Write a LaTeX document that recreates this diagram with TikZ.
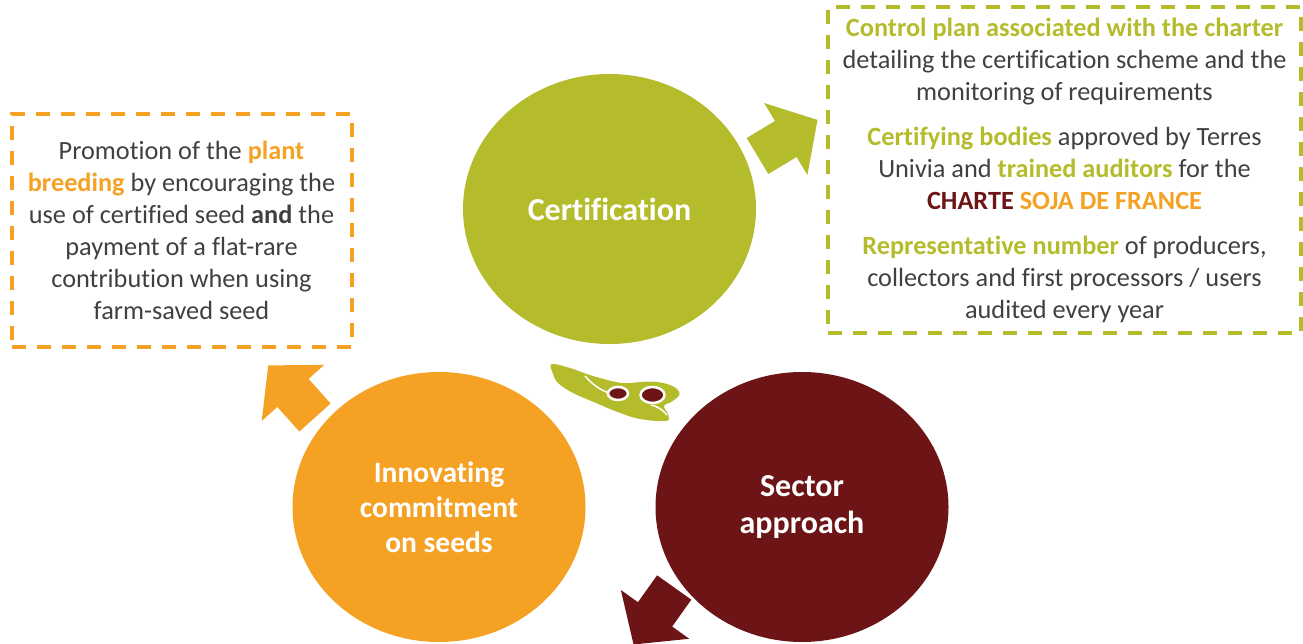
\documentclass[tikz,border=0pt]{standalone}
\usepackage{fontspec}
\setmainfont[Ligatures=NoCommon]{Carlito}
\usetikzlibrary{shapes.geometric}

\definecolor{soygreen}{RGB}{180,188,44}
\definecolor{soyorange}{RGB}{244,161,36}
\definecolor{soyred}{RGB}{108,20,22}
\definecolor{soytext}{RGB}{64,64,64}

\begin{document}
\begin{tikzpicture}[x=1pt, y=-1pt]
    \tikzstyle{every node}=[inner sep=0pt, align=center]
    \tikzstyle{bubble}=[ellipse, minimum width=293pt, minimum height=270pt, text=white, font=\fontsize{29.5}{35}\selectfont\bfseries]
    \tikzstyle{notebox}=[draw, line width=4pt, dash pattern=on 14pt off 11pt, text=soytext, font=\fontsize{26.3}{32}\selectfont]
    \useasboundingbox (0,0) rectangle (1303,644);
    \clip (0,0) rectangle (1303,644);

    % the three stages
    \node[bubble, fill=soygreen, font=\fontsize{32}{38}\selectfont\bfseries] (cert) at (609.5,209) {Certification};
    \node[bubble, fill=soyorange] (seeds) at (439,507) {Innovating\\commitment\\on seeds};
    \node[bubble, fill=soyred, font=\fontsize{32}{37}\selectfont\bfseries] (sector) at (802,507) {Sector\\approach};

    % block arrows
    \foreach \px/\py/\ang/\col in {757.5/156/31/soygreen, 315/417.5/131.9/soyorange, 674.2/587.5/234.5/soyred}
        \fill[\col, shift={(\px,\py)}, rotate=\ang] (0,-21) -- (33,-21) -- (33,-42) -- (70,0) -- (33,42) -- (33,21) -- (0,21) -- cycle;

    % soy pod
    \fill[soygreen] plot[smooth cycle, tension=0.6] coordinates {(551.7,364) (570,368) (584,373) (600,378) (623,383) (650,381.5) (667,384) (677,389) (679.3,395) (671.7,401.7) (664,406) (668.3,415) (666,421) (640,419) (616.7,411.7) (593,401.7) (573,393) (558,383) (552.7,373)};
    \draw[white, line width=1.5pt] (585,376) .. controls (592,384) and (600,390) .. (609,393);
    \draw[white, line width=1.5pt] (651,405) .. controls (657,406) and (663,410) .. (667,415);
    \filldraw[fill=soyred, draw=white, line width=2.5pt] (618,393.5) ellipse [x radius=10, y radius=6.5];
    \filldraw[fill=soyred, draw=white, line width=2.5pt] (652.5,395) ellipse [x radius=12, y radius=8];

    % notes
    \node[notebox, draw=soyorange, minimum width=340pt, minimum height=233pt] (promo) at (181.5,230.5) {Promotion of the \textcolor{soyorange}{\bfseries plant}\\
        \textcolor{soyorange}{\bfseries breeding} by encouraging the\\
        use of certified seed \textbf{and} the\\
        payment of a flat-rare\\
        contribution when using\\
        farm-saved seed};
    \node[notebox, draw=soygreen, minimum width=473pt, minimum height=326pt] (plan) at (1064.5,170) {\textcolor{soygreen}{\bfseries Control plan associated with the charter}\\
        detailing the certification scheme and the\\
        monitoring of requirements\\[13pt]
        \textcolor{soygreen}{\bfseries Certifying bodies} approved by Terres\\
        Univia and \textcolor{soygreen}{\bfseries trained auditors} for the\\
        \textcolor{soyred}{\bfseries CHARTE} \textcolor{soyorange}{\bfseries SOJA DE FRANCE}\\[13pt]
        \textcolor{soygreen}{\bfseries Representative number} of producers,\\
        collectors and first processors / users\\
        audited every year};
\end{tikzpicture}
\end{document}
